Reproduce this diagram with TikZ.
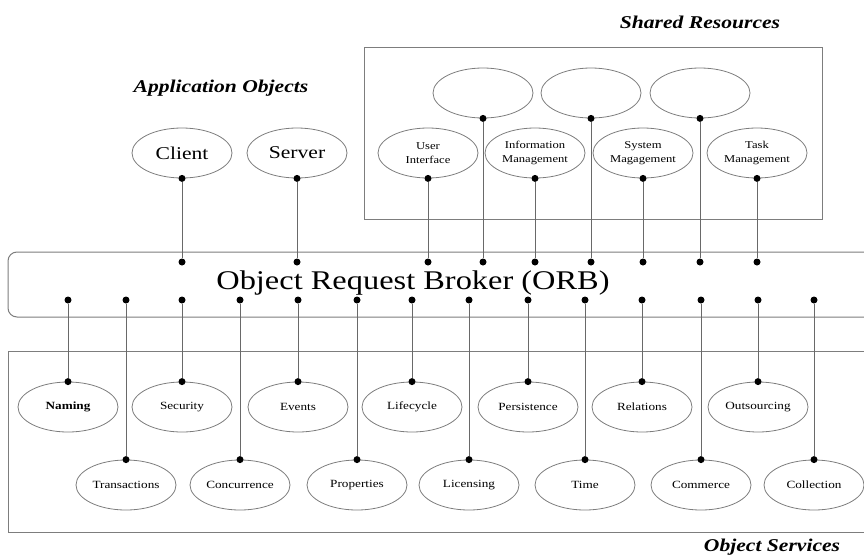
\documentclass[tikz,border=0pt]{standalone}
\usepackage{fontspec}
\setmainfont[FakeStretch=1.2]{Liberation Serif}
\usetikzlibrary{shapes.geometric}
\definecolor{linegray}{RGB}{105,105,105}
\definecolor{rimgray}{RGB}{125,125,125}
\tikzset{
  obj/.style={draw=rimgray,thick,ellipse,minimum width=100pt,minimum height=50pt,inner sep=0pt,align=center,font=\fontsize{11}{13}\selectfont},
  res/.style={obj,font=\fontsize{10.5}{14}\selectfont},
  app/.style={obj,font=\fontsize{18}{20}\selectfont},
  pin/.style={circle,fill=black,inner sep=0pt,minimum size=7pt},
  wire/.style={linegray,line width=0.9pt},
  frame/.style={draw=rimgray,line width=1pt},
  title/.style={font=\fontsize{18}{20}\selectfont\bfseries\itshape}
}

\begin{document}
\begin{tikzpicture}[x=1pt,y=-1pt]
  \clip (0,0) rectangle (864,557);
  % boxes
  \draw[frame] (364,47) rectangle (822,219);
  \draw[frame,rounded corners=9pt] (8,252) rectangle (880,317);
  \draw[frame] (8,351) rectangle (880,532);
  \node[font=\fontsize{27}{30}\selectfont] (orb) at (413,283) {Object Request Broker (ORB)};
  % titles
  \node[title] (apptitle) at (221,88) {Application Objects};
  \node[title] (restitle) at (700,22) {Shared Resources};
  \node[title] (svctitle) at (772,547) {Object Services};
  % application objects
  \foreach \x/\n/\t in {182/client/Client,297/server/Server}{
    \node[app] (\n) at (\x,153) {\t};
    \node[pin] (\n bot) at (\n.south) {};
    \node[pin] (\n orb) at (\x,262) {};
    \draw[wire] (\n bot)--(\n orb);}
  % shared resources
  \foreach \x/\n in {483/ra,591/rb,700/rc}{
    \node[res] (\n) at (\x,93) {};
    \node[pin] (\n bot) at (\n.south) {};
    \node[pin] (\n orb) at (\x,262) {};
    \draw[wire] (\n bot)--(\n orb);}
  \foreach \x/\n/\t in {428/ui/{User\\Interface},535/info/{Information\\Management},643/sys/{System\\Magagement},757/task/{Task\\Management}}{
    \node[res] (\n) at (\x,153) {\t};
    \node[pin] (\n bot) at (\n.south) {};
    \node[pin] (\n orb) at (\x,262) {};
    \draw[wire] (\n bot)--(\n orb);}
  % object services
  \foreach \x/\n/\t in {68/naming/{\textbf{Naming}},182/security/Security,298/events/Events,412/lifecycle/Lifecycle,528/persistence/Persistence,642/relations/Relations,758/outsourcing/Outsourcing}{
    \node[obj] (\n) at (\x,407) {\t};
    \node[pin] (\n top) at (\n.north) {};
    \node[pin] (\n orb) at (\x,300) {};
    \draw[wire] (\n top)--(\n orb);}
  \foreach \x/\n/\t in {126/transactions/Transactions,240/concurrence/Concurrence,357/properties/Properties,469/licensing/Licensing,585/time/Time,701/commerce/Commerce,814/collection/Collection}{
    \node[obj] (\n) at (\x,485) {\t};
    \node[pin] (\n top) at (\n.north) {};
    \node[pin] (\n orb) at (\x,300) {};
    \draw[wire] (\n top)--(\n orb);}
\end{tikzpicture}
\end{document}
